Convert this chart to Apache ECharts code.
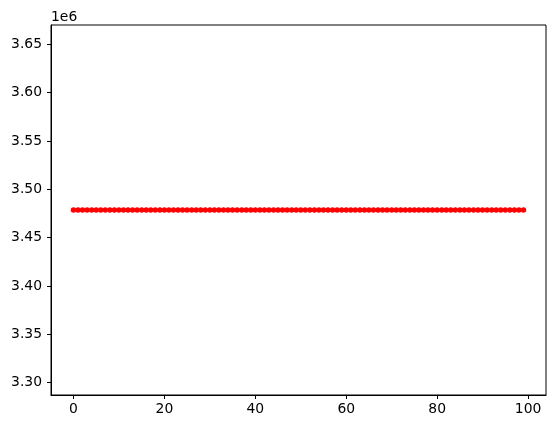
<!DOCTYPE html>
<html>
<head>
<meta charset="utf-8">
<script src="https://cdn.jsdelivr.net/npm/echarts@6/dist/echarts.min.js"></script>
<style>
  html, body { margin: 0; padding: 0; background: #fff; }
  #container { width: 556px; height: 428px; }
</style>
</head>
<body>
<div id="container"></div>
<script>
// values: one flat run of 100 points
var yValues = [
  3478600, 3478600, 3478600, 3478600, 3478600, 3478600, 3478600, 3478600, 3478600, 3478600,
  3478600, 3478600, 3478600, 3478600, 3478600, 3478600, 3478600, 3478600, 3478600, 3478600,
  3478600, 3478600, 3478600, 3478600, 3478600, 3478600, 3478600, 3478600, 3478600, 3478600,
  3478600, 3478600, 3478600, 3478600, 3478600, 3478600, 3478600, 3478600, 3478600, 3478600,
  3478600, 3478600, 3478600, 3478600, 3478600, 3478600, 3478600, 3478600, 3478600, 3478600,
  3478600, 3478600, 3478600, 3478600, 3478600, 3478600, 3478600, 3478600, 3478600, 3478600,
  3478600, 3478600, 3478600, 3478600, 3478600, 3478600, 3478600, 3478600, 3478600, 3478600,
  3478600, 3478600, 3478600, 3478600, 3478600, 3478600, 3478600, 3478600, 3478600, 3478600,
  3478600, 3478600, 3478600, 3478600, 3478600, 3478600, 3478600, 3478600, 3478600, 3478600,
  3478600, 3478600, 3478600, 3478600, 3478600, 3478600, 3478600, 3478600, 3478600, 3478600
];
var xTicks = [0, 20, 40, 60, 80, 100];
var yTicks = [3300000, 3350000, 3400000, 3450000, 3500000, 3550000, 3600000, 3650000];
var yScale = 1e6;

var points = [];
for (var i = 0; i < yValues.length; i++) {
	points.push([i, yValues[i]]);
}

var font = 'DejaVu Sans';
var myChart = echarts.init(document.getElementById('container'));
var option = {
	animation: false,
	backgroundColor: '#fff',
	textStyle: { fontFamily: font },
	grid: {
		left: 51, right: 10, top: 25, bottom: 33,
		show: true,
		borderColor: '#000',
		borderWidth: 1,
		backgroundColor: 'transparent'
	},
	graphic: [{
		type: 'text',
		left: 51,
		top: 10,
		style: { text: '1e' + Math.log10(yScale), fontFamily: font, fontSize: 13.9, fill: '#000' }
	}],
	xAxis: {
		type: 'value',
		min: -4.95,
		max: 103.95,
		splitLine: { show: false },
		axisLine: { onZero: false, lineStyle: { color: '#000', width: 1 } },
		axisTick: { inside: false, customValues: xTicks, length: 4, lineStyle: { color: '#000', width: 1 } },
		axisLabel: { customValues: xTicks, color: '#000', fontSize: 13.9, margin: 7, fontFamily: font }
	},
	yAxis: {
		type: 'value',
		min: 3287300,
		max: 3669900,
		splitLine: { show: false },
		axisLine: { show: true, onZero: false, lineStyle: { color: '#000', width: 1 } },
		axisTick: { show: true, inside: false, customValues: yTicks, length: 4, lineStyle: { color: '#000', width: 1 } },
		axisLabel: {
			customValues: yTicks, color: '#000', fontSize: 13.9, margin: 9, fontFamily: font,
			formatter: function (v) { return (v / yScale).toFixed(2); }
		}
	},
	series: [{
		type: 'scatter',
		data: points,
		symbol: 'circle',
		symbolSize: 5.5,
		itemStyle: { color: '#ff0000', opacity: 1 }
	}]
};
myChart.setOption(option);
</script>
</body>
</html>
